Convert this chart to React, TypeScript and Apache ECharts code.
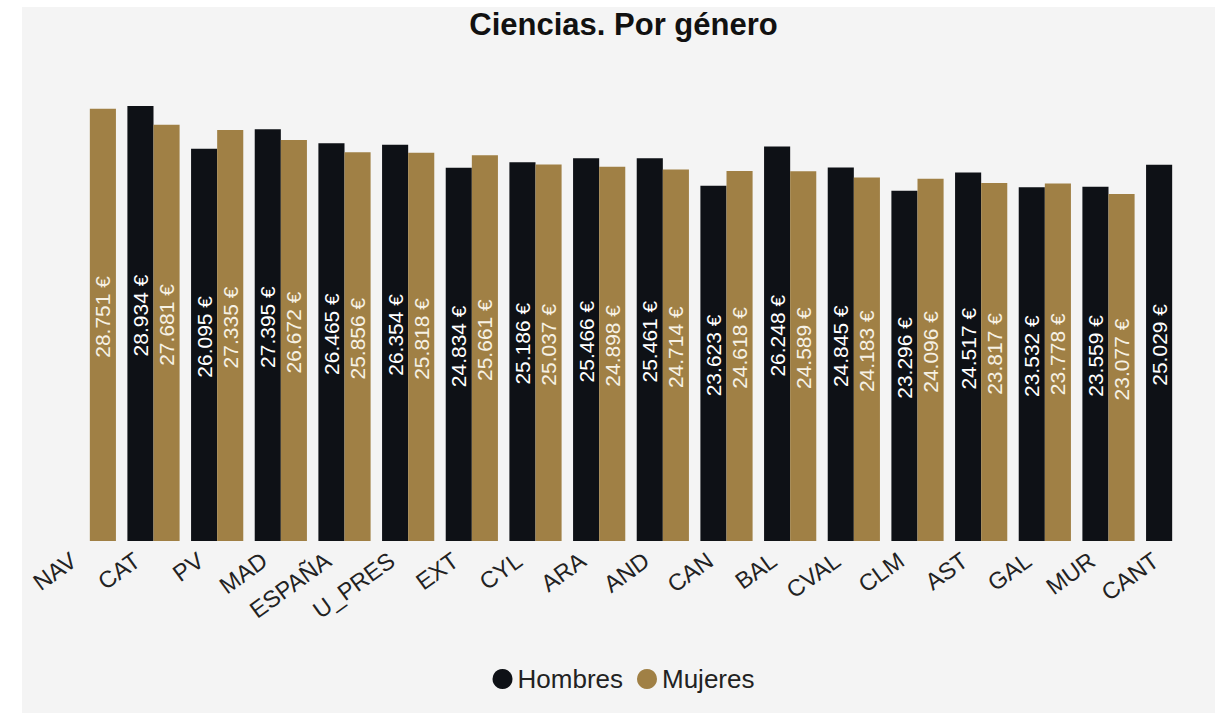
import React, { useEffect, useRef } from "react";
import * as echarts from "echarts";

const categories = ["NAV", "CAT", "PV", "MAD", "ESPAÑA", "U_PRES", "EXT", "CYL", "ARA", "AND", "CAN", "BAL", "CVAL", "CLM", "AST", "GAL", "MUR", "CANT"];
const hombres: (number | null)[] = [null, 28934, 26095, 27395, 26465, 26354, 24834, 25186, 25466, 25461, 23623, 26248, 24845, 23296, 24517, 23532, 23559, 25029];
const mujeres: (number | null)[] = [28751, 27681, 27335, 26672, 25856, 25818, 25661, 25037, 24898, 24714, 24618, 24589, 24183, 24096, 23817, 23778, 23077, null];

const fmt = (v: number) => v.toString().replace(/\B(?=(\d{3})+(?!\d))/g, ".") + " €";

export default function App() {
  const ref = useRef<HTMLDivElement>(null);
  useEffect(() => {
    if (!ref.current) return;
    const chart = echarts.init(ref.current, undefined, { renderer: "svg" });
    const font = "Arial, 'Liberation Sans', sans-serif";
    const label = (color: string) => ({
      show: true,
      position: "inside",
      rotate: 90,
      offset: [8, 0],
      color,
      fontSize: 21,
      fontFamily: font,
      formatter: (p: any) => fmt(p.value),
    });
    chart.setOption({
      animation: false,
      backgroundColor: "#f4f4f4",
      title: {
        text: "Ciencias. Por género",
        left: "center",
        top: 2,
        padding: 0,
        textStyle: { fontSize: 31, fontWeight: "bold", color: "#111", fontFamily: font },
      },
      legend: {
        bottom: 16,
        left: "center",
        icon: "circle",
        itemWidth: 20,
        itemHeight: 20,
        itemGap: 14,
        textStyle: { fontSize: 26, color: "#222", fontFamily: font },
        data: ["Hombres", "Mujeres"],
      },
      grid: { left: 36, right: 21, top: 83, bottom: 172 },
      xAxis: {
        type: "category",
        data: categories,
        axisLine: { show: false },
        axisTick: { show: false },
        axisLabel: {
          rotate: 36,
          fontSize: 23.5,
          color: "#222",
          fontFamily: font,
          interval: 0,
          margin: 5,
          padding: [0, 20, 0, 0],
        },
      },
      yAxis: { type: "value", min: 0, max: 30000, show: false, splitLine: { show: false } },
      series: [
        {
          name: "Hombres",
          type: "bar",
          data: hombres,
          barGap: "0%",
          barCategoryGap: "18%",
          itemStyle: { color: "#0e1116" },
          label: label("#ffffff"),
        },
        {
          name: "Mujeres",
          type: "bar",
          data: mujeres,
          barGap: "0%",
          barCategoryGap: "18%",
          itemStyle: { color: "#a08045" },
          label: label("#f6f1e4"),
        },
      ],
    });
    return () => chart.dispose();
  }, []);
  return (
    <div style={{ position: "fixed", left: 0, top: 0, width: "100vw", height: "100vh", overflow: "hidden", background: "#fff" }}>
      <div ref={ref} style={{ position: "absolute", left: 22, top: 7, width: 1203, height: 706 }} />
    </div>
  );
}
